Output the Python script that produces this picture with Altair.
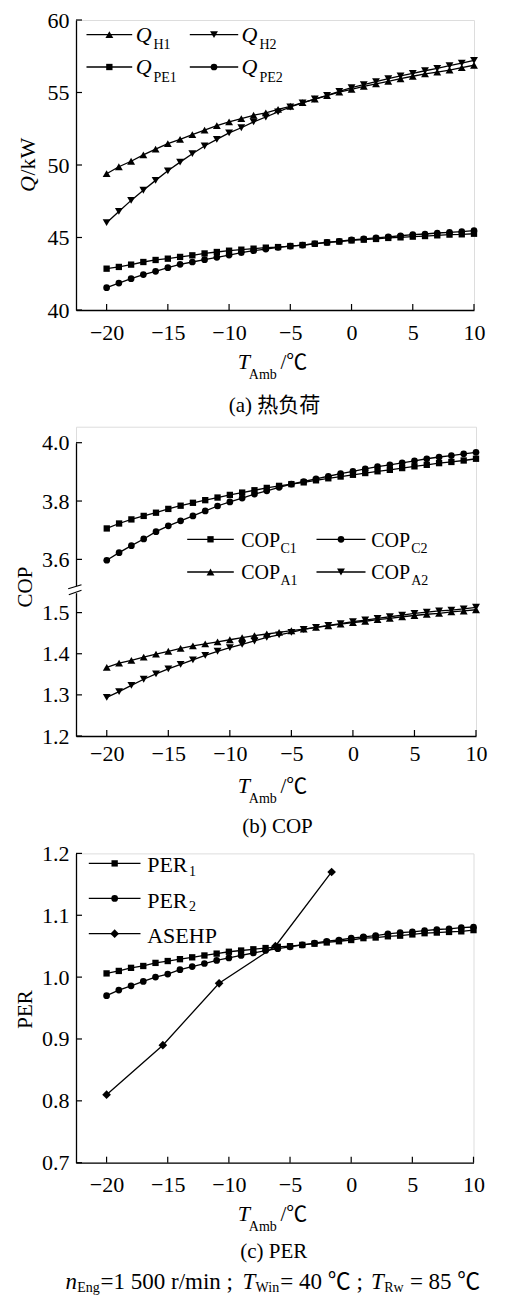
import altair as alt
import pandas as pd

# ---------------- data ----------------
T = list(range(-20, 11))
XT = [-20, -15, -10, -5, 0, 5, 10]

Q_H1 = [49.4, 49.88, 50.26, 50.7, 51.1, 51.47, 51.77, 52.09, 52.41, 52.71, 52.97,
        53.2, 53.43, 53.6, 53.84, 54.05, 54.3, 54.55, 54.78, 55.03, 55.22,
        55.43, 55.59, 55.77, 55.95, 56.12, 56.28, 56.41, 56.55, 56.71, 56.88]
Q_H2 = [46.02, 46.8, 47.56, 48.26, 48.94, 49.6, 50.2, 50.78, 51.31, 51.77, 52.21,
        52.57, 52.97, 53.31, 53.66, 54.0, 54.28, 54.55, 54.8, 55.08, 55.33,
        55.54, 55.75, 55.95, 56.14, 56.32, 56.5, 56.67, 56.85, 57.03, 57.22]
Q_PE1 = [42.85, 42.97, 43.13, 43.31, 43.45, 43.54, 43.66, 43.77, 43.9, 44.0, 44.09,
         44.16, 44.23, 44.3, 44.34, 44.41, 44.48, 44.57, 44.66, 44.72, 44.8,
         44.85, 44.9, 44.97, 45.01, 45.06, 45.1, 45.15, 45.2, 45.22, 45.26]
Q_PE2 = [41.54, 41.86, 42.16, 42.44, 42.67, 42.92, 43.15, 43.31, 43.47, 43.63, 43.79,
         43.95, 44.09, 44.2, 44.32, 44.41, 44.48, 44.57, 44.66, 44.74, 44.83,
         44.9, 44.97, 45.04, 45.12, 45.2, 45.24, 45.31, 45.35, 45.4, 45.47]

COP_C1 = [3.706, 3.723, 3.737, 3.749, 3.760, 3.773, 3.784, 3.794, 3.803, 3.812, 3.821,
          3.829, 3.837, 3.845, 3.852, 3.858, 3.864, 3.871, 3.878, 3.884, 3.890,
          3.896, 3.902, 3.907, 3.913, 3.919, 3.924, 3.930, 3.934, 3.939, 3.945]
COP_C2 = [3.597, 3.623, 3.647, 3.670, 3.695, 3.715, 3.732, 3.749, 3.766, 3.783, 3.797,
          3.810, 3.824, 3.835, 3.847, 3.858, 3.867, 3.876, 3.885, 3.894, 3.902,
          3.910, 3.918, 3.924, 3.931, 3.938, 3.945, 3.951, 3.956, 3.962, 3.967]
COP_A1 = [1.367, 1.377, 1.384, 1.392, 1.399, 1.406, 1.413, 1.419, 1.424, 1.429, 1.434,
          1.439, 1.444, 1.448, 1.452, 1.456, 1.460, 1.464, 1.468, 1.472, 1.476,
          1.479, 1.483, 1.486, 1.490, 1.493, 1.496, 1.498, 1.502, 1.504, 1.507]
COP_A2 = [1.294, 1.308, 1.323, 1.338, 1.351, 1.363, 1.374, 1.385, 1.396, 1.406, 1.415,
          1.423, 1.431, 1.440, 1.446, 1.452, 1.459, 1.464, 1.469, 1.473, 1.478,
          1.482, 1.486, 1.490, 1.494, 1.498, 1.501, 1.504, 1.506, 1.509, 1.513]

PER_1 = [1.006, 1.010, 1.015, 1.018, 1.023, 1.026, 1.029, 1.032, 1.035, 1.038, 1.041,
         1.043, 1.045, 1.047, 1.049, 1.050, 1.052, 1.054, 1.056, 1.058, 1.060,
         1.063, 1.064, 1.066, 1.067, 1.069, 1.071, 1.072, 1.073, 1.074, 1.076]
PER_2 = [0.970, 0.979, 0.986, 0.993, 1.000, 1.005, 1.012, 1.017, 1.022, 1.027, 1.031,
         1.035, 1.039, 1.043, 1.046, 1.049, 1.052, 1.055, 1.058, 1.060, 1.063,
         1.065, 1.067, 1.070, 1.072, 1.073, 1.075, 1.077, 1.078, 1.080, 1.081]
ASEHP_T = [-20, -15.4, -10.8, -6.2, -1.6]
ASEHP = [0.81, 0.89, 0.99, 1.05, 1.17]

YT_A = [40, 45, 50, 55, 60]
YT_B = [1.2, 1.3, 1.4, 1.5, 3.6, 3.8, 4.0]
YT_C = [0.7, 0.8, 0.9, 1.0, 1.1, 1.2]

# ---------------- styling helpers ----------------
SERIF = "Liberation Serif, Times New Roman, serif"
MIXED = "Liberation Serif, Noto Sans CJK SC, serif"
one = pd.DataFrame({"k": [0]})

SHAPE_SIZE = {"triangle-up": 62, "triangle-down": 62, "square": 40,
              "circle": 45, "diamond": 75}


def long_df(xs, series):
    rows = []
    for name, vals in series:
        for x, v in zip(xs, vals):
            rows.append({"T": x, "v": v, "s": name})
    return pd.DataFrame(rows)


def txt(x, y, s, size=21, style="normal", align="left", angle=0, font=SERIF,
        baseline="alphabetic"):
    kw = dict(text=s, font=font, fontSize=size, fontStyle=style, align=align,
              baseline=baseline, color="black")
    if angle:
        kw["angle"] = angle
    return alt.Chart(one).mark_text(**kw).encode(x=alt.value(x), y=alt.value(y))


def seg(x0, y0, x1, y1, w=1.3, color="black"):
    return alt.Chart(one).mark_rule(color=color, strokeWidth=w).encode(
        x=alt.value(x0), x2=alt.value(x1), y=alt.value(y0), y2=alt.value(y1))


def marker(x, y, shape):
    return alt.Chart(one).mark_point(shape=shape, filled=True, color="black",
                                     opacity=1, size=SHAPE_SIZE[shape]).encode(
        x=alt.value(x), y=alt.value(y))


def legend_item(x0, x1, y, shape):
    return [seg(x0, y, x1, y), marker((x0 + x1) / 2, y, shape)]


def x_axis(pad):
    return alt.Axis(values=XT, title=None, grid=False, ticks=False, tickSize=0,
                    labelPadding=pad, domainColor="black", domainWidth=1.3,
                    labelFont=SERIF, labelFontSize=22, labelColor="black",
                    labelFlush=False, labelOverlap=False)


def y_axis(values, fmt, pad=7):
    return alt.Axis(values=values, format=fmt, title=None, grid=False, ticks=False,
                    tickSize=0, labelPadding=pad, domainColor="black",
                    domainWidth=1.3, labelFont=SERIF, labelFontSize=22,
                    labelColor="black", labelOverlap=False, labelFlush=False)


def panel(df, shapes, xs, xa, ys, ya, W, H, ticks_y, extra):
    X = alt.X("T:Q", scale=xs, axis=xa)
    Y = alt.Y("v:Q", scale=ys, axis=ya)
    layers = []
    layers.append(alt.Chart(df).mark_line(color="black", strokeWidth=1.3).encode(
        x=X, y=Y, detail="s:N"))
    for name, shp in shapes:
        layers.append(alt.Chart(df).transform_filter(alt.datum.s == name)
                      .mark_point(shape=shp, filled=True, color="black", opacity=1,
                                  size=SHAPE_SIZE[shp]).encode(x=X, y=Y))
    layers.append(alt.Chart(pd.DataFrame({"T": XT})).mark_rule(
        color="black", strokeWidth=1.2).encode(x=X, y=alt.value(H), y2=alt.value(H - 6)))
    layers.append(alt.Chart(pd.DataFrame({"v": ticks_y})).mark_rule(
        color="black", strokeWidth=1.2).encode(y=Y, x=alt.value(0), x2=alt.value(6)))
    layers += extra
    return alt.layer(*layers).properties(width=W, height=H)


def x_title(H, off):
    b = H + off
    return [txt(161.8, b, "T", size=22, style="italic"),
            txt(172.8, b + 10, "Amb", size=14),
            txt(204.5, b, "/℃", size=21, font=MIXED)]


# ---------------- panel (a) ----------------
WA, HA = 398, 290
dfA = long_df(T, [("QH1", Q_H1), ("QH2", Q_H2), ("QPE1", Q_PE1), ("QPE2", Q_PE2)])
xsA = alt.Scale(domain=[-22.5, 10], nice=False, zero=False)
ysA = alt.Scale(domain=[40, 60], nice=False, zero=False)
extraA = []
extraA += legend_item(10.5, 56.2, 14.7, "triangle-up")
extraA += legend_item(113.8, 162.2, 14.7, "triangle-down")
extraA += legend_item(10.5, 56.2, 47, "square")
extraA += legend_item(113.8, 162.2, 47, "circle")
extraA += [txt(59.8, 21.5, "Q", size=22, style="italic"), txt(77.5, 28.7, "H1", size=14),
           txt(165.5, 21.5, "Q", size=22, style="italic"), txt(183.5, 28.7, "H2", size=14),
           txt(59.8, 53.7, "Q", size=22, style="italic"), txt(77.5, 62, "PE1", size=14),
           txt(165.5, 53.7, "Q", size=22, style="italic"), txt(183.5, 62, "PE2", size=14)]
extraA += [txt(-41, 172, "Q", size=22, style="italic", angle=270),
           txt(-41, 155.5, "/kW", size=22, angle=270)]
extraA += x_title(HA, 58.7)
extraA += [txt(198.5, 392.4, "(a) 热负荷", size=21, align="center", font=MIXED)]
A = panel(dfA, [("QH1", "triangle-up"), ("QH2", "triangle-down"),
                ("QPE1", "square"), ("QPE2", "circle")],
          xsA, x_axis(12.5), ysA, y_axis(YT_A, "d"), WA, HA, YT_A, extraA)

# ---------------- panel (b) ----------------
WB, HB = 400, 309.3
dfB = long_df(T, [("C1", COP_C1), ("C2", COP_C2), ("A1", COP_A1), ("A2", COP_A2)])
xsB = alt.Scale(domain=[-22.5, 10], nice=False, zero=False)
ysB = alt.Scale(domain=[1.2, 1.555, 3.495, 4.0], range=[HB, 163.3, 163.3, 16],
                nice=False, zero=False)
extraB = []
extraB += legend_item(111.2, 157.8, 112.6, "square")
extraB += legend_item(240.5, 289.5, 112.6, "circle")
extraB += legend_item(111.2, 157.8, 145.3, "triangle-up")
extraB += legend_item(240.5, 289.5, 145.3, "triangle-down")
extraB += [txt(165.2, 120.3, "COP", size=20), txt(204.5, 126, "C1", size=14),
           txt(295.2, 120.3, "COP", size=20), txt(335.2, 126, "C2", size=14),
           txt(165.2, 152, "COP", size=20), txt(204.5, 158.5, "A1", size=14),
           txt(295.2, 152, "COP", size=20), txt(335.2, 158.5, "A2", size=14)]
# axis break
extraB += [seg(0, 159.5, 0, 166.5, w=4, color="white"),
           seg(-7.8, 162, 5.5, 158, w=1.2),
           seg(-7.2, 168, 5.5, 163.6, w=1.2)]
extraB += [txt(-43.8, 160.3, "COP", size=21, align="center", angle=270)]
extraB += x_title(HB, 56.5)
extraB += [txt(201.5, 405.8, "(b) COP", size=21, align="center", font=MIXED)]
B = panel(dfB, [("C1", "square"), ("C2", "circle"),
                ("A1", "triangle-up"), ("A2", "triangle-down")],
          xsB, x_axis(7.5), ysB, y_axis(YT_B, ".1f"), WB, HB, YT_B, extraB)

# ---------------- panel (c) ----------------
WC, HC = 397.5, 309.3
dfC = pd.concat([long_df(T, [("P1", PER_1), ("P2", PER_2)]),
                 long_df(ASEHP_T, [("AS", ASEHP)])], ignore_index=True)
xsC = alt.Scale(domain=[-22.5, 10], nice=False, zero=False)
ysC = alt.Scale(domain=[0.7, 1.2], nice=False, zero=False)
extraC = []
extraC += legend_item(12.8, 64.5, 10, "square")
extraC += legend_item(12.8, 64.5, 45, "circle")
extraC += legend_item(12.8, 64.5, 80.3, "diamond")
extraC += [txt(71.2, 18.6, "PER", size=22), txt(113, 22.2, "1", size=14),
           txt(71.2, 54.3, "PER", size=22), txt(113, 57.9, "2", size=14),
           txt(71.2, 89.3, "ASEHP", size=22)]
extraC += [txt(-43.8, 156, "PER", size=21, align="center", angle=270)]
extraC += x_title(HC, 58.3)
extraC += [txt(197.8, 404.8, "(c) PER", size=21, align="center", font=MIXED)]
fb = 436
extraC += [txt(-10.5, fb, "n", size=23, style="italic"),
           txt(1.3, fb + 3, "Eng", size=14),
           txt(24.5, fb, "=1 500 r/min ;", size=23),
           txt(166.5, fb, "T", size=23, style="italic"),
           txt(179.6, fb + 3, "Win", size=14),
           txt(204.3, fb, "= 40 ℃ ;", size=23, font=MIXED),
           txt(295.1, fb, "T", size=23, style="italic"),
           txt(308.2, fb + 3, "Rw", size=14),
           txt(333.9, fb, "= 85 ℃", size=23, font=MIXED)]
C = panel(dfC, [("P1", "square"), ("P2", "circle"), ("AS", "diamond")],
          xsC, x_axis(11.5), ysC, y_axis(YT_C, ".1f"), WC, HC, YT_C, extraC)

chart = alt.vconcat(A, B, C, spacing=116.7, bounds="flush").properties(
    padding={"left": 6, "top": 0, "right": 5, "bottom": 2}
).configure_view(stroke=None).configure(background="white")

chart.save("out.html", embed_options={"renderer": "svg", "actions": False})
